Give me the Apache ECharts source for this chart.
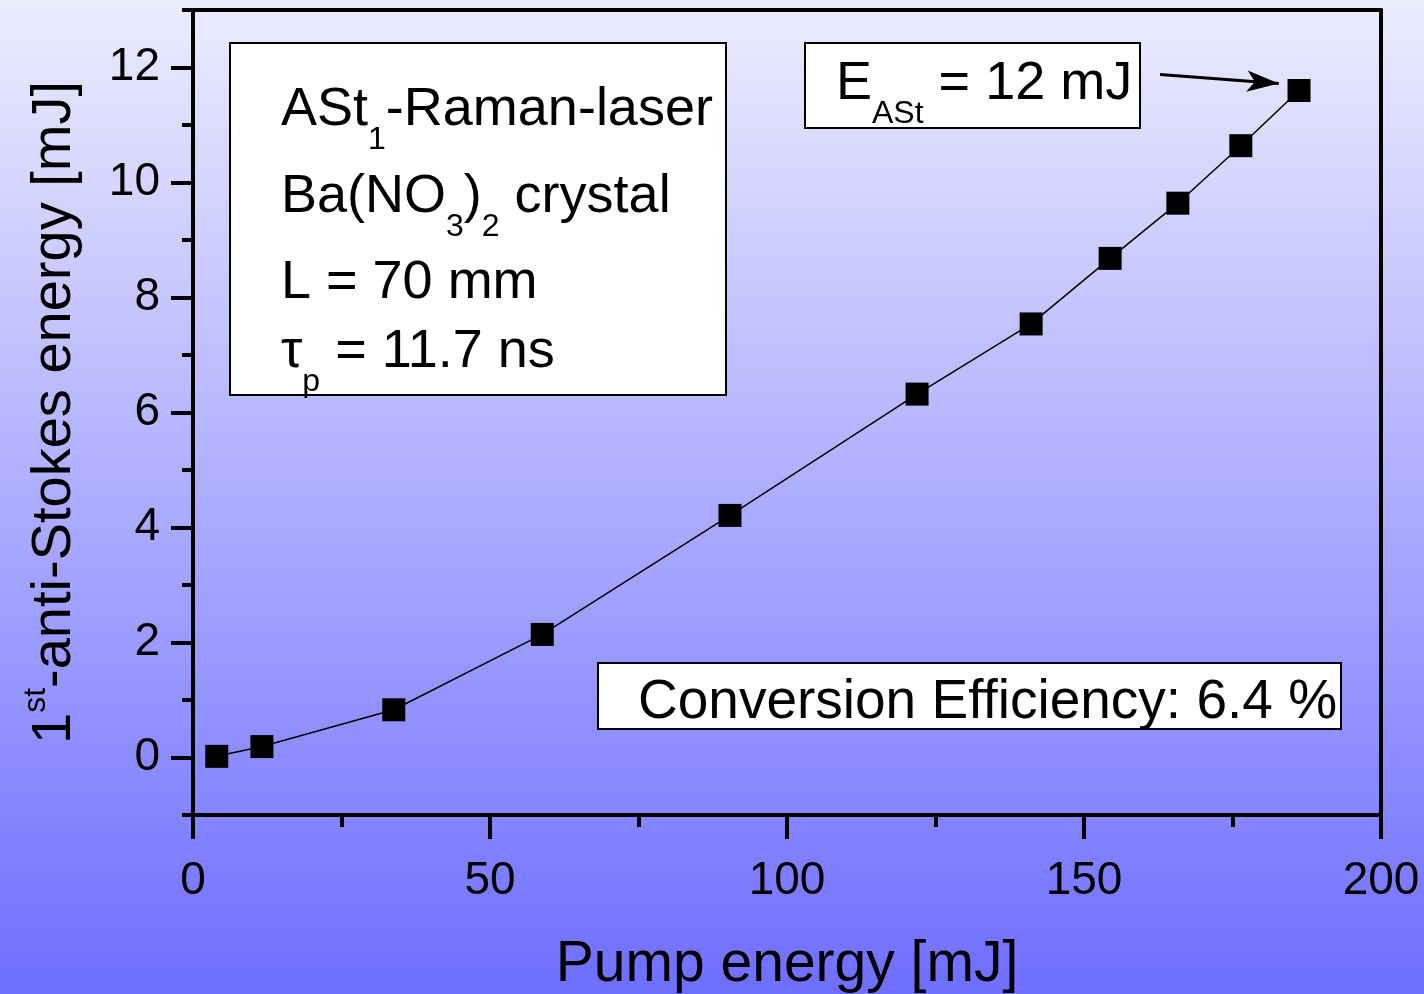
<!DOCTYPE html>
<html>
<head>
<meta charset="utf-8">
<script src="https://cdn.jsdelivr.net/npm/echarts@6/dist/echarts.min.js"></script>
<style>
  html, body { margin: 0; padding: 0; }
  #chart { width: 1424px; height: 994px; }
</style>
</head>
<body>
<div id="chart"></div>
<script>
// pump energy [mJ] and 1st anti-Stokes energy [mJ]
var pumpEnergy = [4.0, 11.6, 33.8, 58.8, 90.4, 121.9, 141.1, 154.4, 165.8, 176.4, 186.2];
var astEnergy = [0.02, 0.19, 0.83, 2.14, 4.21, 6.32, 7.54, 8.68, 9.64, 10.64, 11.6];
var yMajorTicks = [0, 2, 4, 6, 8, 10, 12];
var yMinorTicks = [-1, 1, 3, 5, 7, 9, 11, 13];
var arrowFrom = [162.8, 11.88];
var arrowTo = [182.8, 11.72];

var FONT = '"Liberation Sans", Arial, sans-serif';

var chart = echarts.init(document.getElementById('chart'));

var points = pumpEnergy.map(function (x, i) {
  return [x, astEnergy[i]];
});

// subscript style for rich text
function subStyle() {
  return { fontSize: 32, fontFamily: FONT, lineHeight: 10, verticalAlign: 'bottom', fill: '#000', color: '#000' };
}

var option = {
  backgroundColor: {
    type: 'linear', x: 0, y: 0, x2: 0, y2: 1,
    colorStops: [
      { offset: 0, color: '#ececfe' },
      { offset: 1, color: '#6e6eff' }
    ]
  },
  animation: false,
  grid: { left: 193, right: 43, top: 10, bottom: 179, containLabel: false, outerBoundsMode: 'none' },
  xAxis: [
    {
      type: 'value',
      position: 'bottom',
      min: 0,
      max: 200,
      interval: 50,
      name: 'Pump energy [mJ]',
      nameLocation: 'middle',
      nameGap: 122,
      nameMoveOverlap: false,
      nameTextStyle: { fontSize: 57, fontFamily: FONT, color: '#000' },
      axisLine: { show: true, onZero: false, lineStyle: { color: '#000', width: 4 } },
      axisTick: { show: true, inside: false, length: 24, lineStyle: { color: '#000', width: 4 } },
      minorTick: { show: true, splitNumber: 2, length: 12, lineStyle: { color: '#000', width: 4 } },
      axisLabel: { fontSize: 46, fontFamily: FONT, color: '#000', margin: 43 },
      splitLine: { show: false }
    },
    {
      type: 'value',
      position: 'top',
      min: 0,
      max: 200,
      interval: 50,
      axisLine: { show: true, onZero: false, lineStyle: { color: '#000', width: 4 } },
      axisTick: { show: true, inside: true, length: 2, lineStyle: { color: '#000', width: 2 } },
      axisLabel: { show: false },
      splitLine: { show: false }
    }
  ],
  yAxis: [
    {
      type: 'value',
      position: 'left',
      min: -1,
      max: 13,
      name: '1{sup|st}-anti-Stokes energy [mJ]',
      nameLocation: 'middle',
      nameGap: 103,
      nameMoveOverlap: false,
      nameRotate: 90,
      nameTextStyle: {
        fontSize: 56, fontFamily: FONT, color: '#000', lineHeight: 70,
        rich: {
          sup: { fontSize: 32, fontFamily: FONT, color: '#000', lineHeight: 26, verticalAlign: 'top' }
        }
      },
      axisLine: { show: true, onZero: false, lineStyle: { color: '#000', width: 4 } },
      axisTick: { show: true, inside: false, length: 22, customValues: yMajorTicks, lineStyle: { color: '#000', width: 4 } },
      axisLabel: { fontSize: 46, fontFamily: FONT, color: '#000', margin: 33, customValues: yMajorTicks },
      splitLine: { show: false }
    },
    {
      type: 'value',
      position: 'left',
      min: -1,
      max: 13,
      axisLine: { show: false, onZero: false },
      axisTick: { show: true, inside: false, length: 11, customValues: yMinorTicks, lineStyle: { color: '#000', width: 4 } },
      axisLabel: { show: false },
      splitLine: { show: false }
    },
    {
      type: 'value',
      position: 'right',
      min: -1,
      max: 13,
      axisLine: { show: true, onZero: false, lineStyle: { color: '#000', width: 4 } },
      axisTick: { show: true, inside: true, length: 2, customValues: yMinorTicks.concat(yMajorTicks), lineStyle: { color: '#000', width: 2 } },
      axisLabel: { show: false },
      splitLine: { show: false }
    }
  ],
  series: [
    {
      type: 'line',
      data: points,
      xAxisIndex: 0,
      yAxisIndex: 0,
      symbol: 'rect',
      symbolSize: 23,
      showAllSymbol: true,
      itemStyle: { color: '#000' },
      lineStyle: { color: '#000', width: 1.5 },
      markLine: {
        silent: true,
        symbol: ['none', 'arrow'],
        symbolSize: [16, 32],
        label: { show: false },
        lineStyle: { color: '#000', width: 3, type: 'solid' },
        data: [[{ coord: arrowFrom }, { coord: arrowTo }]]
      }
    }
  ],
  graphic: [
    // parameter box
    {
      type: 'rect', shape: { x: 230, y: 43, width: 496, height: 352 },
      style: { fill: '#fff', stroke: '#000', lineWidth: 2 }, z: 10
    },
    {
      type: 'text', x: 281, y: 64, z: 11,
      style: {
        text: 'ASt{s|1}-Raman-laser', fontSize: 54, fontFamily: FONT, fill: '#000',
        lineHeight: 92, verticalAlign: 'top', rich: { s: subStyle() }
      }
    },
    {
      type: 'text', x: 281, y: 151, z: 11,
      style: {
        text: 'Ba(NO{s|3}){s|2} crystal', fontSize: 54, fontFamily: FONT, fill: '#000',
        lineHeight: 92, verticalAlign: 'top', rich: { s: subStyle() }
      }
    },
    {
      type: 'text', x: 281, y: 237, z: 11,
      style: {
        text: 'L = 70 mm', fontSize: 54, fontFamily: FONT, fill: '#000',
        lineHeight: 92, verticalAlign: 'top'
      }
    },
    {
      type: 'text', x: 281, y: 306, z: 11,
      style: {
        text: '\u03c4{s|p} = 11.7 ns', fontSize: 54, fontFamily: FONT, fill: '#000',
        lineHeight: 92, verticalAlign: 'top', rich: { s: subStyle() }
      }
    },
    // energy box
    {
      type: 'rect', shape: { x: 805, y: 43, width: 335, height: 85 },
      style: { fill: '#fff', stroke: '#000', lineWidth: 2 }, z: 10
    },
    {
      type: 'text', x: 836, y: 38, z: 11,
      style: {
        text: 'E{s|ASt} = 12 mJ', fontSize: 54, fontFamily: FONT, fill: '#000',
        lineHeight: 92, verticalAlign: 'top', rich: { s: subStyle() }
      }
    },
    // efficiency box
    {
      type: 'rect', shape: { x: 598, y: 663, width: 743, height: 66 },
      style: { fill: '#fff', stroke: '#000', lineWidth: 2 }, z: 10
    },
    {
      type: 'text', x: 638, y: 657, z: 11,
      style: {
        text: 'Conversion Efficiency: 6.4 %', fontSize: 55, fontFamily: FONT, fill: '#000',
        lineHeight: 92, verticalAlign: 'top'
      }
    }
  ]
};

chart.setOption(option);
</script>
</body>
</html>
